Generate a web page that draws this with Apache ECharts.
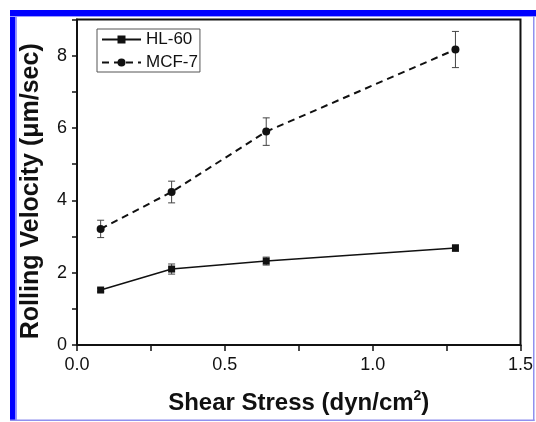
<!DOCTYPE html>
<html>
<head>
<meta charset="utf-8">
<script src="https://cdn.jsdelivr.net/npm/echarts@6/dist/echarts.min.js"></script>
<style>
  html, body { margin: 0; padding: 0; background: #fff; }
  #chart { width: 536px; height: 422px; }
</style>
</head>
<body>
<div id="chart"></div>
<script>
const shearStress = [0.08, 0.32, 0.64, 1.28];
const hl60 = [1.52, 2.10, 2.32, 2.68];
const hl60Err = [0.05, 0.14, 0.11, 0.09];
const mcf7 = [3.21, 4.23, 5.90, 8.17];
const mcf7Err = [0.24, 0.30, 0.38, 0.50];
const xMajorLabels = [0, 0.5, 1, 1.5];
const yMajorLabels = [0, 2, 4, 6, 8];

const font = "'Liberation Sans', Arial, sans-serif";
const ink = "#111";

function points(ys) {
  return shearStress.map((x, i) => [x, ys[i]]);
}
function errRows(ys, errs) {
  return shearStress.map((x, i) => [x, ys[i] - errs[i], ys[i] + errs[i]]);
}

function errorBars(params, api) {
  const x = api.value(0);
  const lo = api.coord([x, api.value(1)]);
  const hi = api.coord([x, api.value(2)]);
  const cap = 3.5;
  const style = { stroke: "#444", lineWidth: 1 };
  return {
    type: "group",
    children: [
      { type: "line", shape: { x1: hi[0], y1: hi[1], x2: lo[0], y2: lo[1] }, style },
      { type: "line", shape: { x1: hi[0] - cap, y1: hi[1], x2: hi[0] + cap, y2: hi[1] }, style },
      { type: "line", shape: { x1: lo[0] - cap, y1: lo[1], x2: lo[0] + cap, y2: lo[1] }, style },
    ],
  };
}

const chart = echarts.init(document.getElementById("chart"), null, { renderer: "canvas" });
chart.setOption({
  backgroundColor: "#fff",
  animation: false,
  textStyle: { fontFamily: font, color: ink },
  grid: {
    left: 77, right: 15, top: 19.5, bottom: 77,
    show: true, borderColor: ink, borderWidth: 2, backgroundColor: "transparent",
  },
  legend: {
    data: ["HL-60", "MCF-7"],
    orient: "vertical",
    left: 97, top: 29,
    padding: [2, 2, 1, 4],
    itemGap: 6,
    itemWidth: 39,
    itemHeight: 10,
    borderColor: "#555",
    borderWidth: 1,
    textStyle: { fontFamily: font, fontSize: 17, color: ink },
  },
  xAxis: {
    type: "value",
    min: 0, max: 1.5, interval: 0.25,
    name: "Shear Stress (dyn/cm{sup|2})",
    nameLocation: "middle",
    nameGap: 44,
    nameTextStyle: {
      fontFamily: font, fontSize: 24, fontWeight: "bold", color: ink,
      rich: { sup: { fontFamily: font, fontSize: 14, fontWeight: "bold", color: ink, padding: [0, 0, 14, 0] } },
    },
    axisLine: { lineStyle: { color: ink, width: 2 } },
    axisTick: { inside: false, length: 6, lineStyle: { color: ink, width: 1.5 } },
    axisLabel: {
      margin: 11, fontSize: 18, color: ink, fontFamily: font,
      formatter: (v) => (xMajorLabels.some((m) => Math.abs(m - v) < 1e-9) ? v.toFixed(1) : ""),
    },
    splitLine: { show: false },
  },
  yAxis: {
    type: "value",
    min: 0, max: 9, interval: 1,
    name: "Rolling Velocity (μm/sec)",
    nameLocation: "middle",
    nameGap: 33,
    nameTextStyle: { fontFamily: font, fontSize: 25, fontWeight: "bold", color: ink, padding: [0, 18, 0, 0] },
    axisLine: { lineStyle: { color: ink, width: 2 } },
    axisTick: { inside: false, length: 5, lineStyle: { color: ink, width: 1.5 } },
    axisLabel: {
      margin: 10, fontSize: 18, color: ink, fontFamily: font,
      formatter: (v) => (yMajorLabels.includes(v) ? String(v) : ""),
    },
    splitLine: { show: false },
  },
  series: [
    {
      name: "HL-60 error", type: "custom", renderItem: errorBars,
      data: errRows(hl60, hl60Err), encode: { x: 0, y: [1, 2] }, z: 2,
    },
    {
      name: "MCF-7 error", type: "custom", renderItem: errorBars,
      data: errRows(mcf7, mcf7Err), encode: { x: 0, y: [1, 2] }, z: 2,
    },
    {
      name: "HL-60", type: "line", data: points(hl60), z: 3,
      symbol: "rect", symbolSize: 7,
      itemStyle: { color: ink },
      lineStyle: { color: ink, width: 1.5 },
    },
    {
      name: "MCF-7", type: "line", data: points(mcf7), z: 3,
      symbol: "circle", symbolSize: 8,
      itemStyle: { color: ink },
      lineStyle: { color: ink, width: 2, type: [7, 5] },
    },
  ],
  graphic: [
    { type: "rect", shape: { x: 10, y: 10, width: 526, height: 6 }, style: { fill: "#0000ff" }, silent: true },
    { type: "rect", shape: { x: 10, y: 10, width: 5.5, height: 411 }, style: { fill: "#0000ff" }, silent: true },
    { type: "rect", shape: { x: 15.5, y: 16, width: 1.5, height: 404 }, style: { fill: "#9a9aff" }, silent: true },
    { type: "rect", shape: { x: 10, y: 16, width: 526, height: 1 }, style: { fill: "#9a9aff" }, silent: true },
    { type: "rect", shape: { x: 533, y: 16, width: 1.5, height: 405 }, style: { fill: "#9090ee" }, silent: true },
    { type: "rect", shape: { x: 10, y: 419.5, width: 524.5, height: 1.5 }, style: { fill: "#9090ee" }, silent: true },
  ],
});
</script>
</body>
</html>
